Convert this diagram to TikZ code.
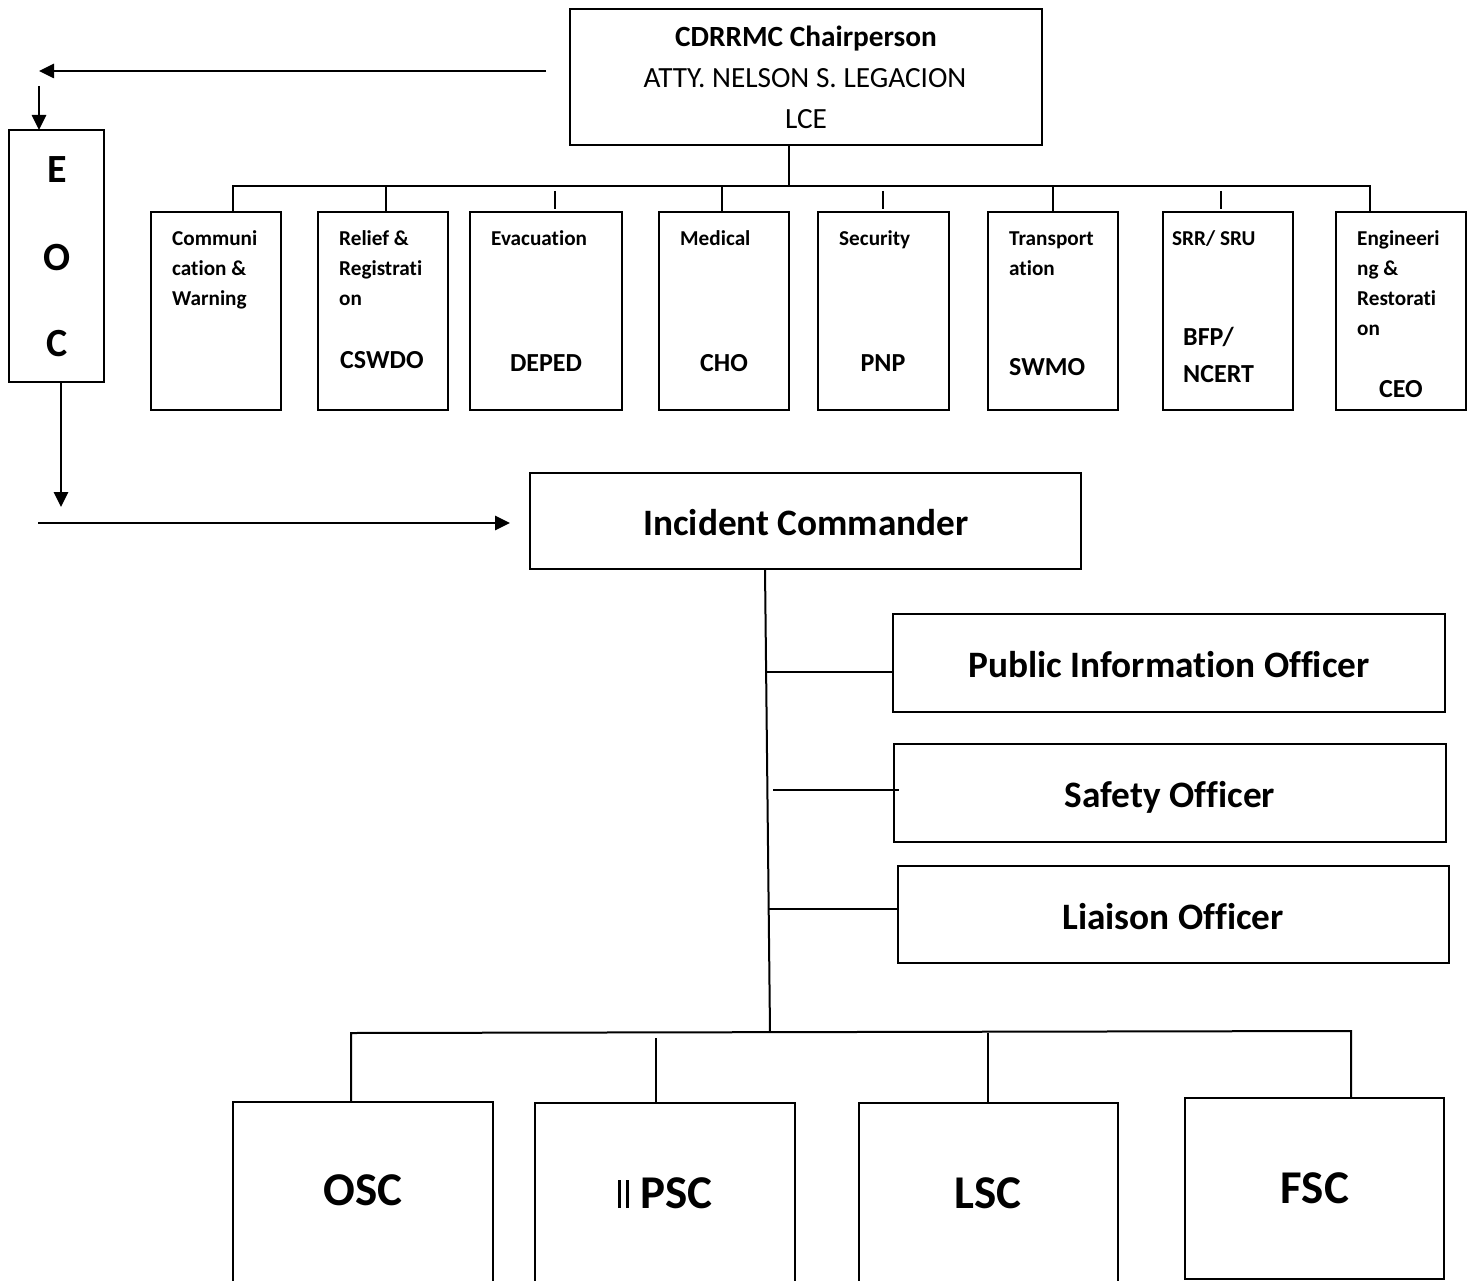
\documentclass[tikz,border=0pt]{standalone}
\usepackage{fontspec}
\setmainfont{Carlito}[Ligatures=NoCommon]
\usetikzlibrary{arrows.meta}
\begin{document}
\begin{tikzpicture}[x=1pt,y=-1pt,
  box/.style={draw,line width=2pt,inner sep=0pt,outer sep=0pt},
  ln/.style={line width=2pt},
  arr/.style={line width=2.6pt,-{Triangle[length=15pt,width=14pt]}},
  tsm/.style={inner sep=0pt,anchor=base west,font=\fontsize{21.2}{25}\selectfont\bfseries},
  tmd/.style={inner sep=0pt,anchor=base west,font=\fontsize{26}{30}\selectfont\bfseries},
  tmc/.style={inner sep=0pt,anchor=base,font=\fontsize{26}{30}\selectfont\bfseries},
  tch/.style={inner sep=0pt,anchor=base,font=\fontsize{29.3}{34}\selectfont},
  tbig/.style={inner sep=0pt,anchor=base,font=\fontsize{37.3}{44}\selectfont\bfseries},
  teoc/.style={inner sep=0pt,anchor=base,font=\fontsize{40}{48}\selectfont\bfseries},
  tsec/.style={inner sep=0pt,anchor=base,font=\fontsize{47}{54}\selectfont\bfseries},
]
\clip (0,0) rectangle (1471,1281);
\fill[white] (0,0) rectangle (1471,1281);

% boxes
\node[box,minimum width=472,minimum height=136] (chair) at (806,77) {};
\node[box,minimum width=95,minimum height=252] (eoc) at (56.5,256) {};
\node[box,minimum width=130,minimum height=198] (comm) at (216,311) {};
\node[box,minimum width=130,minimum height=198] (relief) at (383,311) {};
\node[box,minimum width=152,minimum height=198] (evac) at (546,311) {};
\node[box,minimum width=130,minimum height=198] (med) at (724,311) {};
\node[box,minimum width=131,minimum height=198] (sec) at (883.5,311) {};
\node[box,minimum width=130,minimum height=198] (trans) at (1053,311) {};
\node[box,minimum width=130,minimum height=198] (srr) at (1228,311) {};
\node[box,minimum width=130,minimum height=198] (eng) at (1401,311) {};
\node[box,minimum width=551,minimum height=96] (ic) at (805.5,521) {};
\node[box,minimum width=552,minimum height=98] (pio) at (1169,663) {};
\node[box,minimum width=552,minimum height=98] (saf) at (1170,793) {};
\node[box,minimum width=551,minimum height=97] (lia) at (1173.5,914.5) {};
\node[box,minimum width=260,minimum height=300] (osc) at (363,1252) {};
\node[box,minimum width=260,minimum height=300] (psc) at (665,1253) {};
\node[box,minimum width=259,minimum height=300] (lsc) at (988.5,1253) {};
\node[box,minimum width=259,minimum height=181] (fsc) at (1314.5,1188.5) {};

% top tree
\coordinate (bus1) at (789,186);
\draw[ln] (bus1 |- chair.south) -- (bus1);
\coordinate (bl) at (233,186);
\coordinate (br) at (1370,186);
\draw[ln] (bl |- comm.north) -- (bl) -- (br) -- (br |- eng.north);
\coordinate (sR) at (386,186);
\draw[ln] (sR) -- (sR |- relief.north);
\coordinate (sE) at (555,191);
\draw[ln] (sE) -- ([yshift=3pt]sE |- evac.north);
\coordinate (sM) at (722,186);
\draw[ln] (sM) -- (sM |- med.north);
\coordinate (sS) at (883,191);
\draw[ln] (sS) -- ([yshift=3pt]sS |- sec.north);
\coordinate (sT) at (1053,186);
\draw[ln] (sT) -- (sT |- trans.north);
\coordinate (sQ) at (1221,191);
\draw[ln] (sQ) -- ([yshift=3pt]sQ |- srr.north);

% arrows
\coordinate (a1s) at (546,71);
\coordinate (a1e) at (39,71);
\draw[arr] (a1s) -- (a1e);
\coordinate (a2s) at (39,86);
\draw[arr] (a2s) -- (a2s |- eoc.north);
\coordinate (a3e) at (61,507);
\draw[arr] (a3e |- eoc.south) -- (a3e);
\coordinate (a4s) at (38,523);
\coordinate (a4e) at (510,523);
\draw[arr] (a4s) -- (a4e);

% incident commander tree
\coordinate (t1) at (765,569);
\coordinate (t2) at (770,1032);
\draw[ln] (t1 |- ic.south) -- (t2);
\coordinate (p1) at (766,672);
\draw[ln] (p1) -- (p1 -| pio.west);
\coordinate (q1) at (773,790);
\draw[ln] (q1) -- ([xshift=5pt]q1 -| saf.west);
\coordinate (r1) at (769,909);
\draw[ln] (r1) -- (r1 -| lia.west);

\coordinate (b1) at (351,1033);
\coordinate (b2) at (1351,1031);
\draw[ln] (b1 |- osc.north) -- (b1) -- (b2) -- (b2 |- fsc.north);
\coordinate (sP) at (656,1038);
\draw[ln] (sP) -- (sP |- psc.north);
\coordinate (sL) at (988,1033);
\draw[ln] (sL) -- (sL |- lsc.north);

% texts
\node[tch] (ch1) at (806,47) {\bfseries CDRRMC Chairperson};
\node[tch] (ch2) at (805,88) {ATTY. NELSON S. LEGACION};
\node[tch] (ch3) at (806,129) {LCE};

\node[teoc] (eE) at (57,183) {E};
\node[teoc] (eO) at (57,270) {O};
\node[teoc] (eC) at (57,356) {C};

\node[tsm] (c1) at (172,245) {Communi};
\node[tsm] (c2) at (172,275) {cation \&};
\node[tsm] (c3) at (172,305) {Warning};

\node[tsm] (r1t) at (339,245) {Relief \&};
\node[tsm] (r2t) at (339,275) {Registrati};
\node[tsm] (r3t) at (339,305) {on};
\node[tmd] (r4t) at (340,368) {CSWDO};

\node[tsm] (ev1) at (491,245) {Evacuation};
\node[tmc] (ev2) at (546,371) {DEPED};

\node[tsm] (m1) at (680,245) {Medical};
\node[tmc] (m2) at (724,371) {CHO};

\node[tsm] (se1) at (839,245) {Security};
\node[tmc] (se2) at (883,371) {PNP};

\node[tsm] (tr1) at (1009,245) {Transport};
\node[tsm] (tr2) at (1009,275) {ation};
\node[tmd] (tr3) at (1009,375) {SWMO};

\node[tsm] (sr1) at (1172,245) {SRR/ SRU};
\node[tmd] (sr2) at (1183,345) {BFP/};
\node[tmd] (sr3) at (1183,382) {NCERT};

\node[tsm] (en1) at (1357,245) {Engineeri};
\node[tsm] (en2) at (1357,275) {ng \&};
\node[tsm] (en3) at (1357,305) {Restorati};
\node[tsm] (en4) at (1357,335) {on};
\node[tmc] (en5) at (1401,397) {CEO};

\node[tbig] (ict) at (806,535) {Incident Commander};
\node[tbig] (piot) at (1169,677) {Public Information Officer};
\node[tbig] (saft) at (1170,807) {Safety Officer};
\node[tbig] (liat) at (1173,929) {Liaison Officer};

\node[tsec] (osct) at (363,1205) {OSC};
\node[tsec,anchor=base west] (psct) at (618,1208) {\rule{2.5pt}{28pt}\hspace{5.5pt}\rule{2.5pt}{28pt}\hspace{12pt}PSC};
\node[tsec] (lsct) at (988,1208) {LSC};
\node[tsec] (fsct) at (1315,1203) {FSC};
\end{tikzpicture}
\end{document}
